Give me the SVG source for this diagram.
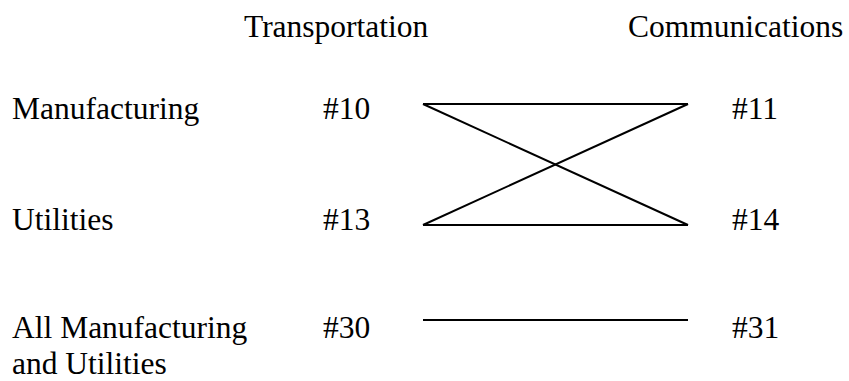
<svg xmlns="http://www.w3.org/2000/svg" width="849" height="381" viewBox="0 0 849 381">
<style>
text{font-family:"Liberation Serif","Times New Roman",serif;font-size:31.5px;fill:#000}
.c{stroke:#000;stroke-width:2;fill:none}
</style>
<rect width="849" height="381" fill="#fff"/>
<g id="hdr-transportation"><text x="244" y="37">Transportation</text></g>
<g id="hdr-communications"><text x="628" y="37">Communications</text></g>
<g id="row-manufacturing"><text x="12" y="119">Manufacturing</text></g>
<g id="row-utilities"><text x="12" y="230">Utilities</text></g>
<g id="row-all"><text x="12" y="338">All Manufacturing</text><text x="12" y="374">and Utilities</text></g>
<g id="n10"><text x="323" y="119">#10</text></g>
<g id="n11"><text x="732" y="119">#11</text></g>
<g id="n13"><text x="323" y="230">#13</text></g>
<g id="n14"><text x="732" y="230">#14</text></g>
<g id="n30"><text x="323" y="338">#30</text></g>
<g id="n31"><text x="732" y="338">#31</text></g>
<g id="connectors">
<line class="c" x1="423" y1="104" x2="688" y2="104"/>
<line class="c" x1="423" y1="225" x2="688" y2="225"/>
<line class="c" x1="423" y1="104" x2="688" y2="225"/>
<line class="c" x1="423" y1="225" x2="688" y2="104"/>
<line class="c" x1="423" y1="320" x2="688" y2="320"/>
</g>
</svg>
